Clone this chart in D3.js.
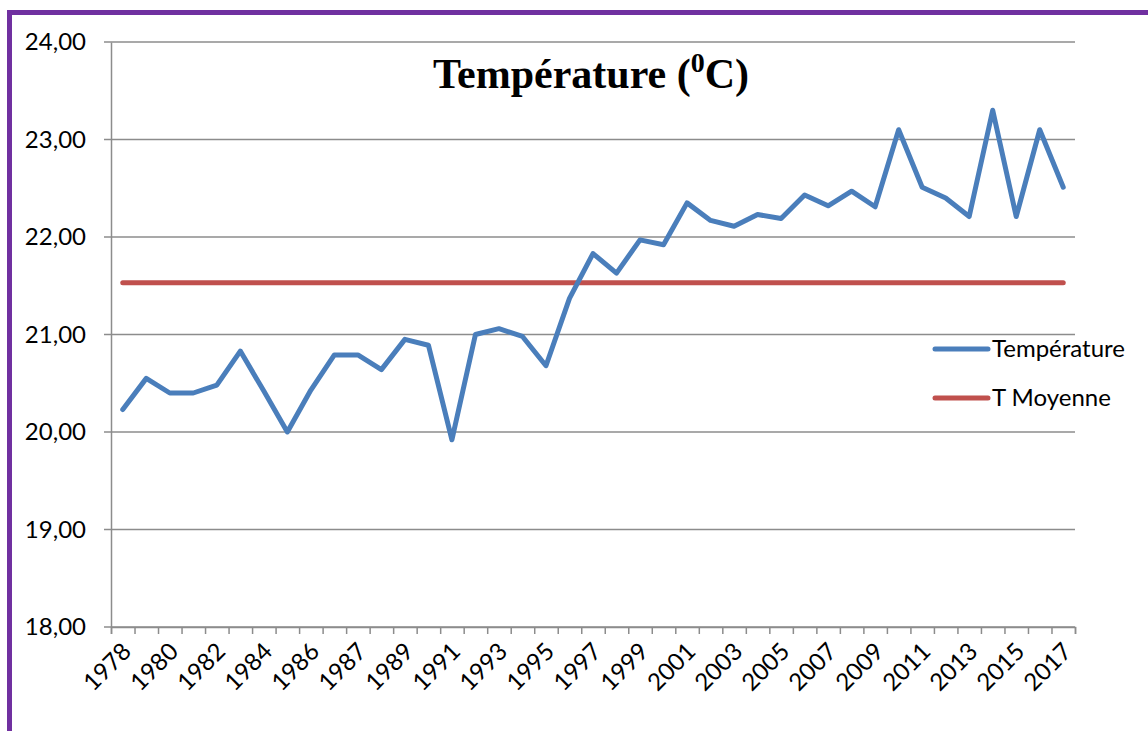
<!DOCTYPE html>
<html>
<head>
<meta charset="utf-8">
<script src="https://cdn.jsdelivr.net/npm/d3@7"></script>
<style>
  body { margin: 0; background: #fff; }
  svg text { font-family: Lato, "Open Sans", sans-serif; }
</style>
</head>
<body>
<div id="chart"></div>
<script>
// years on the category axis (1986 listed twice in the source sheet)
var years = ["1978", "1979", "1980", "1981", "1982", "1983", "1984", "1985", "1986", "1986",
    "1987", "1988", "1989", "1990", "1991", "1992", "1993", "1994", "1995", "1996",
    "1997", "1998", "1999", "2000", "2001", "2002", "2003", "2004", "2005", "2006",
    "2007", "2008", "2009", "2010", "2011", "2012", "2013", "2014", "2015", "2016", "2017"];

// annual temperature (°C)
var temperature = [20.23, 20.55, 20.40, 20.40, 20.48, 20.83, 20.42, 20.00, 20.43, 20.79,
    20.79, 20.64, 20.95, 20.89, 19.92, 21.00, 21.06, 20.98, 20.68, 21.37,
    21.83, 21.63, 21.97, 21.92, 22.35, 22.17, 22.11, 22.23, 22.19, 22.43,
    22.32, 22.47, 22.31, 23.10, 22.51, 22.40, 22.21, 23.30, 22.21, 23.10, 22.51];

// mean temperature
var tMoyenne = 21.53;

var yTicks = [18, 19, 20, 21, 22, 23, 24];

var svgWidth = 1148;
var svgHeight = 731;

var margin = { top: 42, right: 73, bottom: 104, left: 111 };
var width = svgWidth - margin.left - margin.right;
var height = svgHeight - margin.top - margin.bottom;

var svg = d3.select("#chart")
    .append("svg")
    .attr("width", svgWidth)
    .attr("height", svgHeight);

// purple frame (top and left edges visible)
svg.append("path")
    .attr("d", `M9.5,${svgHeight + 5} L9.5,12.5 L${svgWidth + 5},12.5`)
    .attr("fill", "none")
    .attr("stroke", "#7030A0")
    .attr("stroke-width", 5);

var chartGroup = svg.append("g")
    .attr("transform", `translate(${margin.left}, ${margin.top})`);

// scales
var xBand = d3.scaleBand()
    .domain(d3.range(years.length))
    .range([0, width])
    .padding(0);

var xEdges = d3.scaleLinear()
    .domain([0, years.length])
    .range([0, width]);

var yLinearScale = d3.scaleLinear()
    .domain([18, 24])
    .range([height, 0]);

var xMid = i => xBand(i) + xBand.bandwidth() / 2;

// horizontal gridlines with small stubs left of the axis
chartGroup.append("g")
    .selectAll("line")
    .data(yTicks)
    .enter()
    .append("line")
    .attr("x1", -7)
    .attr("x2", width)
    .attr("y1", d => yLinearScale(d))
    .attr("y2", d => yLinearScale(d))
    .attr("stroke", "#8c8c8c")
    .attr("stroke-width", 1.5);

// y axis labels
var leftAxis = d3.axisLeft(yLinearScale)
    .tickValues(yTicks)
    .tickSize(0)
    .tickPadding(25)
    .tickFormat(d => d3.format(".2f")(d).replace(".", ","));

var yAxis = chartGroup.append("g").call(leftAxis);
yAxis.select(".domain").attr("stroke", "#8c8c8c").attr("stroke-width", 1.5);
yAxis.selectAll("text")
    .attr("font-size", 24)
    .attr("fill", "#000");

// category boundary ticks
var edgeAxis = d3.axisBottom(xEdges)
    .tickValues(d3.range(years.length + 1))
    .tickSize(7)
    .tickFormat("");

var xAxis = chartGroup.append("g")
    .attr("transform", `translate(0, ${height})`)
    .call(edgeAxis);
xAxis.selectAll("line, path").attr("stroke", "#8c8c8c").attr("stroke-width", 1.5);

// year labels, every other category
chartGroup.append("g")
    .selectAll("text")
    .data(d3.range(0, years.length, 2))
    .enter()
    .append("text")
    .attr("transform", i => `translate(${xMid(i) + 4}, ${height + 20}) rotate(-45)`)
    .attr("text-anchor", "end")
    .attr("dy", "0.35em")
    .attr("font-size", 24)
    .attr("fill", "#000")
    .text(i => years[i]);

// mean line
chartGroup.append("line")
    .attr("x1", xMid(0))
    .attr("x2", xMid(years.length - 1))
    .attr("y1", yLinearScale(tMoyenne))
    .attr("y2", yLinearScale(tMoyenne))
    .attr("stroke", "#C0504D")
    .attr("stroke-width", 5)
    .attr("stroke-linecap", "round");

// temperature line
var line = d3.line()
    .x((d, i) => xMid(i))
    .y(d => yLinearScale(d));

chartGroup.append("path")
    .datum(temperature)
    .attr("d", line)
    .attr("fill", "none")
    .attr("stroke", "#4A7EBB")
    .attr("stroke-width", 5)
    .attr("stroke-linejoin", "round")
    .attr("stroke-linecap", "round");

// title
var title = svg.append("text")
    .attr("x", 591)
    .attr("y", 88)
    .attr("text-anchor", "middle")
    .style("font-family", "'Liberation Serif', 'Times New Roman', serif")
    .attr("font-weight", "bold")
    .attr("font-size", 42)
    .attr("fill", "#000");
title.append("tspan").text("Température (");
title.append("tspan").attr("font-size", 28).attr("dy", -16).text("0");
title.append("tspan").attr("dy", 16).text("C)");

// legend
var legendItems = [
    { name: "Température", color: "#4A7EBB", y: 349 },
    { name: "T Moyenne", color: "#C0504D", y: 398 }
];

var legend = svg.append("g");
legendItems.forEach(item => {
    legend.append("line")
        .attr("x1", 935)
        .attr("x2", 988)
        .attr("y1", item.y)
        .attr("y2", item.y)
        .attr("stroke", item.color)
        .attr("stroke-width", 5)
        .attr("stroke-linecap", "round");
    legend.append("text")
        .attr("x", 992)
        .attr("y", item.y)
        .attr("dy", "0.35em")
        .attr("font-size", 24)
        .attr("fill", "#000")
        .text(item.name);
});
</script>
</body>
</html>
